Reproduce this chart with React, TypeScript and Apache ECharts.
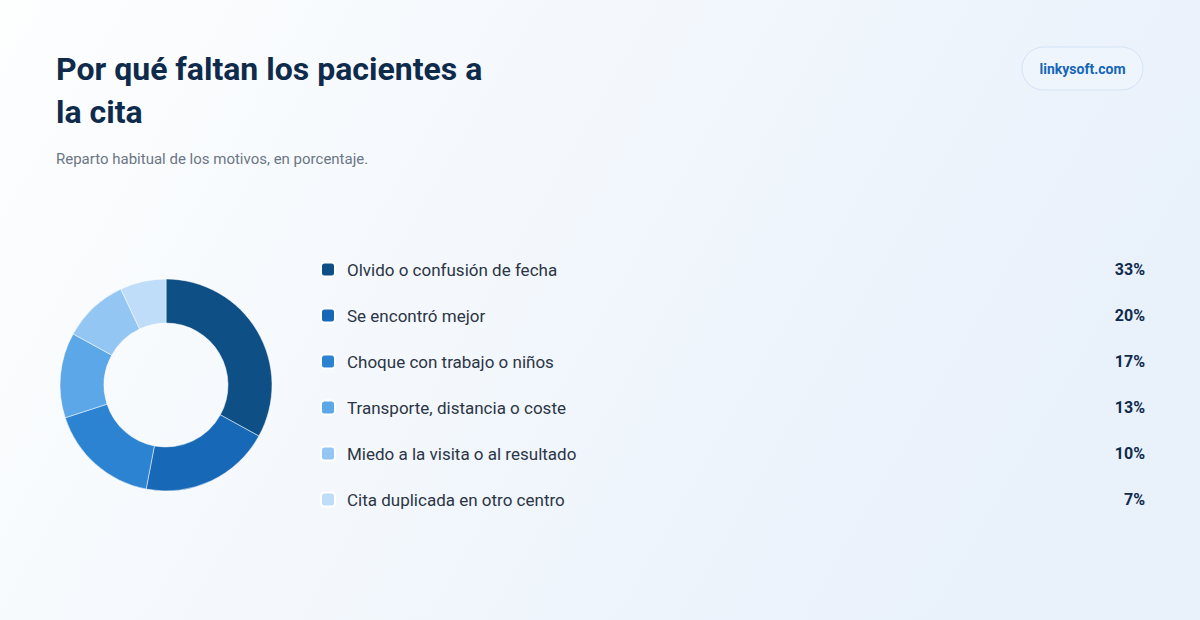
import React, { useEffect, useRef } from 'react';
import * as echarts from 'echarts';

const reasons = [
  'Olvido o confusión de fecha',
  'Se encontró mejor',
  'Choque con trabajo o niños',
  'Transporte, distancia o coste',
  'Miedo a la visita o al resultado',
  'Cita duplicada en otro centro',
];
const shares = [33, 20, 17, 13, 10, 7];
const palette = ['#0e4f86', '#1769b7', '#2c83d2', '#5ba7e7', '#93c6f3', '#bfdcf8'];

const FONT = 'Roboto, "Noto Sans", sans-serif';

export default function App() {
  const chartRef = useRef<HTMLDivElement>(null);

  useEffect(() => {
    document.body.style.margin = '0';
    if (!chartRef.current) return;
    const chart = echarts.init(chartRef.current, null, { renderer: 'svg' });

    const pieData = reasons.map((name, i) => ({
      name,
      value: shares[i],
      itemStyle: { color: palette[i] },
    }));

    chart.setOption({
      animation: false,
      // soft white -> pale blue wash, mostly left to right
      backgroundColor: new echarts.graphic.LinearGradient(0, 0, 1, 0.3, [
        { offset: 0, color: '#fdfefe' },
        { offset: 1, color: '#e9f1fb' },
      ]),
      textStyle: { fontFamily: FONT },
      title: [
        {
          text: 'Por qué faltan los pacientes a\nla cita',
          left: 51,
          top: 42,
          textStyle: {
            fontFamily: FONT,
            fontSize: 32,
            fontWeight: 700,
            color: '#0f2b4c',
            lineHeight: 43,
          },
        },
        {
          text: 'Reparto habitual de los motivos, en porcentaje.',
          left: 51,
          top: 146,
          textStyle: {
            fontFamily: FONT,
            fontSize: 15,
            fontWeight: 400,
            color: '#6b7686',
          },
        },
      ],
      graphic: [
        {
          type: 'rect',
          shape: { x: 1022, y: 47, width: 121, height: 43, r: 21.5 },
          style: { fill: '#eef5fd', stroke: '#d2e3f6', lineWidth: 1 },
        },
        {
          type: 'text',
          x: 1082.5,
          y: 69,
          style: {
            text: 'linkysoft.com',
            fill: '#1565b8',
            font: `700 14px ${FONT}`,
            align: 'center',
            verticalAlign: 'middle',
          },
        },
      ],
      legend: {
        orient: 'vertical',
        left: 320,
        top: 261,
        padding: 0,
        itemWidth: 14,
        itemHeight: 14,
        itemGap: 29,
        icon: 'roundRect',
        selectedMode: false,
        data: reasons,
        formatter: (name: string) => {
          const i = reasons.indexOf(name);
          return `{n|${name}}{v|${shares[i]}%}`;
        },
        textStyle: {
          rich: {
            n: {
              fontFamily: FONT,
              fontSize: 17,
              color: '#2b3545',
              width: 738,
              padding: [0, 0, 0, 7],
              height: 18,
            },
            v: {
              fontFamily: FONT,
              fontSize: 16,
              fontWeight: 700,
              color: '#0f2b4c',
              width: 60,
              align: 'right',
              height: 18,
            },
          },
        },
      },
      series: [
        {
          type: 'pie',
          center: [166, 385],
          radius: [62, 106],
          startAngle: 90,
          clockwise: true,
          label: { show: false },
          labelLine: { show: false },
          itemStyle: { borderColor: '#ffffff', borderWidth: 0.5 },
          emphasis: { disabled: true },
          data: pieData,
        },
      ],
    });

    return () => {
      chart.dispose();
    };
  }, []);

  return <div ref={chartRef} style={{ width: '1200px', height: '620px' }} />;
}
